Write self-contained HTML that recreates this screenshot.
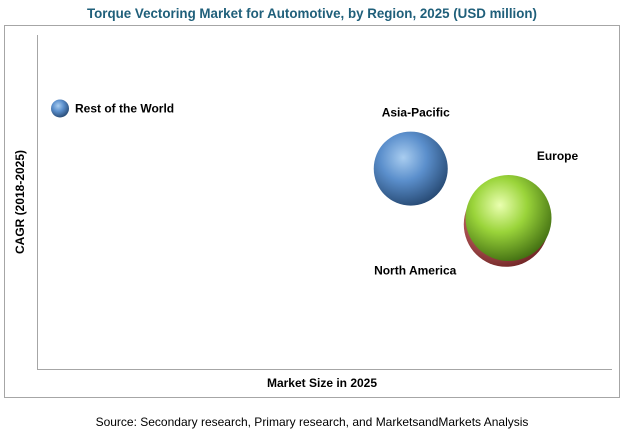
<!DOCTYPE html>
<html><head><meta charset="utf-8"><style>
body{margin:0;background:#fff;width:625px;height:437px;overflow:hidden;font-family:"Liberation Sans",sans-serif}
</style></head><body>
<svg id="chart" width="625" height="437" xmlns="http://www.w3.org/2000/svg">
<defs>
<radialGradient id="gBlue" cx="0.4" cy="0.35" r="0.7"><stop offset="0" stop-color="#a9cdf0"/><stop offset="0.45" stop-color="#5b8fcc"/><stop offset="1" stop-color="#24466f"/></radialGradient>
<radialGradient id="gGreen" cx="0.4" cy="0.35" r="0.7"><stop offset="0" stop-color="#eaffb0"/><stop offset="0.45" stop-color="#9ad43a"/><stop offset="1" stop-color="#3e6a10"/></radialGradient>
<radialGradient id="gRed" cx="0.4" cy="0.35" r="0.7"><stop offset="0" stop-color="#e7a0a0"/><stop offset="0.5" stop-color="#b95c5c"/><stop offset="1" stop-color="#6e2424"/></radialGradient>
</defs>
<text x="312" y="18" text-anchor="middle" font-size="14" font-weight="bold" fill="#1f5f7a" textLength="450" lengthAdjust="spacingAndGlyphs">Torque Vectoring Market for Automotive, by Region, 2025 (USD million)</text>
<rect x="4.5" y="25.5" width="615" height="372" fill="none" stroke="#a6a6a6"/>
<line x1="37.5" y1="35" x2="37.5" y2="369" stroke="#a6a6a6"/>
<line x1="37" y1="369.5" x2="612" y2="369.5" stroke="#a6a6a6"/>
<text transform="translate(24,202) rotate(-90)" text-anchor="middle" font-size="12" font-weight="bold" fill="#000">CAGR (2018-2025)</text>
<text x="322" y="387" text-anchor="middle" font-size="12" font-weight="bold" fill="#000">Market Size in 2025</text>
<text x="312" y="426" text-anchor="middle" font-size="12" fill="#000">Source: Secondary research, Primary research, and MarketsandMarkets Analysis</text>
<g id="bubbles"></g>
</svg>
<script>
const regions=["North America","Rest of the World","Asia-Pacific","Europe"];
const marketSize=[81.6,4,65,82];
const cagr=[43.3,78,60,45.2];
const bubbleSize=[1800,81,1369,1849];
const fills=["url(#gRed)","url(#gBlue)","url(#gBlue)","url(#gGreen)"];
const xs=v=>37+v/100*575;
const ys=v=>369-v/100*334;
const rs=s=>Math.sqrt(s);
const labelPos=[[-91,50,"middle"],[15,4,"start"],[5,-52,"middle"],[49,-58,"middle"]];
const g=document.getElementById('bubbles');
const NS="http://www.w3.org/2000/svg";
regions.forEach((r,i)=>{
 const c=document.createElementNS(NS,'circle');
 c.setAttribute('cx',xs(marketSize[i]));c.setAttribute('cy',ys(cagr[i]));c.setAttribute('r',rs(bubbleSize[i]));
 c.setAttribute('fill',fills[i]);
 
 
 g.appendChild(c);
});
regions.forEach((r,i)=>{
 const t=document.createElementNS(NS,'text');
 t.setAttribute('x',xs(marketSize[i])+labelPos[i][0]);t.setAttribute('y',ys(cagr[i])+labelPos[i][1]);
 t.setAttribute('text-anchor',labelPos[i][2]);t.setAttribute('font-size','12');t.setAttribute('font-weight','bold');
 t.textContent=r;
 
 
 g.appendChild(t);
});
</script>
</body></html>
